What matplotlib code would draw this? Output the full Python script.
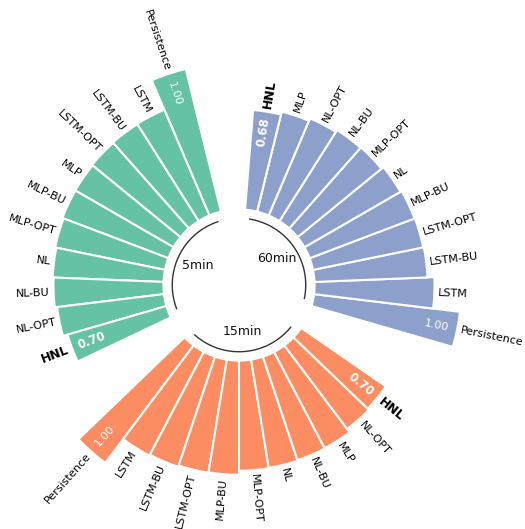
"""Circular grouped bar chart: relative error of each model per horizon."""

import numpy as np
import matplotlib
matplotlib.use("Agg")
import matplotlib.pyplot as plt

# ── data ──────────────────────────────────────────────────────
GROUPS = ["5min", "15min", "60min"]
COLORS = ["#66c2a5", "#fc8d62", "#8da0cb"]

NAMES_5 = ["Persistence", "LSTM", "LSTM-BU", "LSTM-OPT", "MLP", "MLP-BU",
           "MLP-OPT", "NL", "NL-BU", "NL-OPT", "HNL"]
VALUES_5 = [1.00, 0.782, 0.780, 0.777, 0.772, 0.771, 0.762, 0.754, 0.748, 0.732, 0.70]

NAMES_15 = ["Persistence", "LSTM", "LSTM-BU", "LSTM-OPT", "MLP-BU", "MLP-OPT",
            "NL", "NL-BU", "MLP", "NL-OPT", "HNL"]
VALUES_15 = [1.00, 0.797, 0.790, 0.780, 0.777, 0.749, 0.746, 0.742, 0.739, 0.711, 0.70]

NAMES_60 = ["Persistence", "LSTM", "LSTM-BU", "LSTM-OPT", "MLP-BU", "NL",
            "MLP-OPT", "NL-BU", "NL-OPT", "MLP", "HNL"]
VALUES_60 = [1.00, 0.816, 0.769, 0.765, 0.763, 0.754, 0.737, 0.733, 0.718, 0.70, 0.68]

NAMES = [NAMES_5, NAMES_15, NAMES_60]
VALUES = [VALUES_5, VALUES_15, VALUES_60]

# ── layout ────────────────────────────────────────────────────
OFFSET = np.pi / 2
PAD = 2
LABEL_PAD = 0.025
YMIN, YMAX = -0.514, 1.2


def label_rotation(angle, offset):
    rotation = np.rad2deg(angle + offset)
    if angle <= np.pi:
        return rotation + 180, "right"
    return rotation, "left"


n_bars = sum(len(v) for v in VALUES)
angles_all = np.linspace(0, 2 * np.pi, n_bars + PAD * len(GROUPS), endpoint=False)
width = 2 * np.pi / len(angles_all)

W, H = 525, 529
cx, cy = 239, 285
R = 147 * (YMAX - YMIN)
fig = plt.figure(figsize=(W / 100, H / 100), dpi=100)
ax = fig.add_axes([(cx - R) / W, (H - cy - R) / H, 2 * R / W, 2 * R / H], polar=True)
ax.set_theta_offset(OFFSET)
ax.set_ylim(YMIN, YMAX)
ax.set_frame_on(False)
ax.xaxis.grid(False)
ax.yaxis.grid(False)
ax.set_xticks([])
ax.set_yticks([])

start = 0
for group, names, values, color in zip(GROUPS, NAMES, VALUES, COLORS):
    idx = list(range(start + PAD, start + PAD + len(values)))
    angles = angles_all[idx]
    ax.bar(angles, values, width=width, color=color, edgecolor="white", linewidth=1.5)

    for ang, val, name in zip(angles, values, names):
        rot, align = label_rotation(ang, OFFSET)
        bold = name == "HNL"
        ax.text(ang, val + LABEL_PAD, name, ha=align, va="center", rotation=rot,
                rotation_mode="anchor", fontsize=9 if bold else 8,
                fontweight="bold" if bold else "normal")
        if name in ("HNL", "Persistence"):
            ax.text(ang, val - 0.14, f"{val:.2f}", ha="center", va="center",
                    rotation=rot, rotation_mode="anchor", color="white",
                    fontsize=8.5 if bold else 8,
                    fontweight="bold" if bold else "normal")

    # group arc + label
    arc = np.linspace(angles[0], angles[-1], 50)
    ax.plot(arc, [-0.06] * 50, color="#333333", linewidth=1)
    ax.text(np.mean(arc), -0.2, group, color="#111111", fontsize=9,
            ha="center", va="center")

    start += len(values) + PAD

fig.savefig("out.png", dpi=100, facecolor="white")
